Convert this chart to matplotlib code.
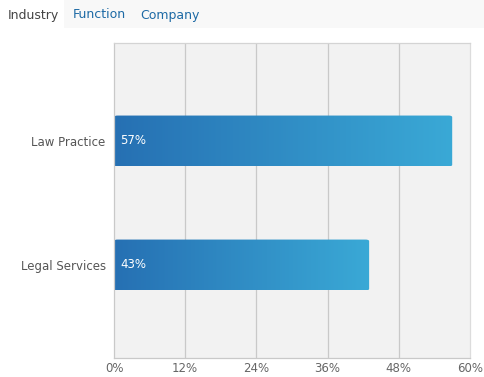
import matplotlib
matplotlib.use("Agg")
import matplotlib.pyplot as plt
import numpy as np
from matplotlib.colors import LinearSegmentedColormap
from matplotlib.patches import FancyBboxPatch

categories = ["Law Practice", "Legal Services"]
values = [57, 43]
tabs = ["Industry", "Function", "Company"]
xticks = [0, 12, 24, 36, 48, 60]

BAR_CMAP = LinearSegmentedColormap.from_list("bar", ["#2670b3", "#3aa9d6"])

fig = plt.figure(figsize=(4.84, 3.77), dpi=100)
fig.patch.set_facecolor("white")
ax = fig.add_axes([114 / 484, 19 / 377, 356 / 484, 315 / 377])
ax.set_facecolor("#f2f2f2")

for x in xticks[1:-1]:
    ax.axvline(x, color="#c9c9c9", linewidth=0.9, zorder=1)

grad = np.linspace(0, 1, 256).reshape(1, -1)
h = 0.41
for i, (cat, v) in enumerate(zip(categories, values)):
    patch = FancyBboxPatch((0, i - h / 2), v, h,
                           boxstyle="round,pad=0,rounding_size=0.6",
                           mutation_aspect=0.02,
                           facecolor="none", edgecolor="none", zorder=2)
    ax.add_patch(patch)
    im = ax.imshow(grad, cmap=BAR_CMAP, aspect="auto",
                   extent=(0, v, i + h / 2, i - h / 2), zorder=2)
    im.set_clip_path(patch)
    ax.text(1.0, i, f"{v}%", color="white", fontsize=8.5, va="center", ha="left", zorder=3)

ax.set_xticks(xticks)
ax.set_xticklabels([f"{x}%" for x in xticks], fontsize=8.5, color="#666666")
ax.set_yticks(range(len(categories)))
ax.set_yticklabels(categories, fontsize=8.5, color="#555555")
ax.tick_params(axis="x", length=0, pad=3)
ax.tick_params(axis="y", length=0, pad=6)
for name, s in ax.spines.items():
    s.set_color("#c9c9c9")
    s.set_linewidth(0.9)
ax.spines["top"].set_color("#d4d4d4")
ax.spines["right"].set_color("#dcdcdc")
ax.set_xlim(0, 60)
ax.set_ylim(1.75, -0.79)

# tab header
fig.patches.append(plt.Rectangle((0, 1 - 28 / 377), 1, 28 / 377, transform=fig.transFigure,
                                 facecolor="#f8f8f8", edgecolor="none", zorder=0))
fig.patches.append(plt.Rectangle((0, 1 - 28 / 377), 64 / 484, 28 / 377, transform=fig.transFigure,
                                 facecolor="white", edgecolor="none", zorder=0))
tab_x = [8, 73, 140]
tab_c = ["#444444", "#1d6aa5", "#1d6aa5"]
for t, x, c in zip(tabs, tab_x, tab_c):
    fig.text(x / 484, 1 - 15 / 377, t, fontsize=9, color=c, va="center", ha="left")

fig.savefig("out.png", dpi=100)
